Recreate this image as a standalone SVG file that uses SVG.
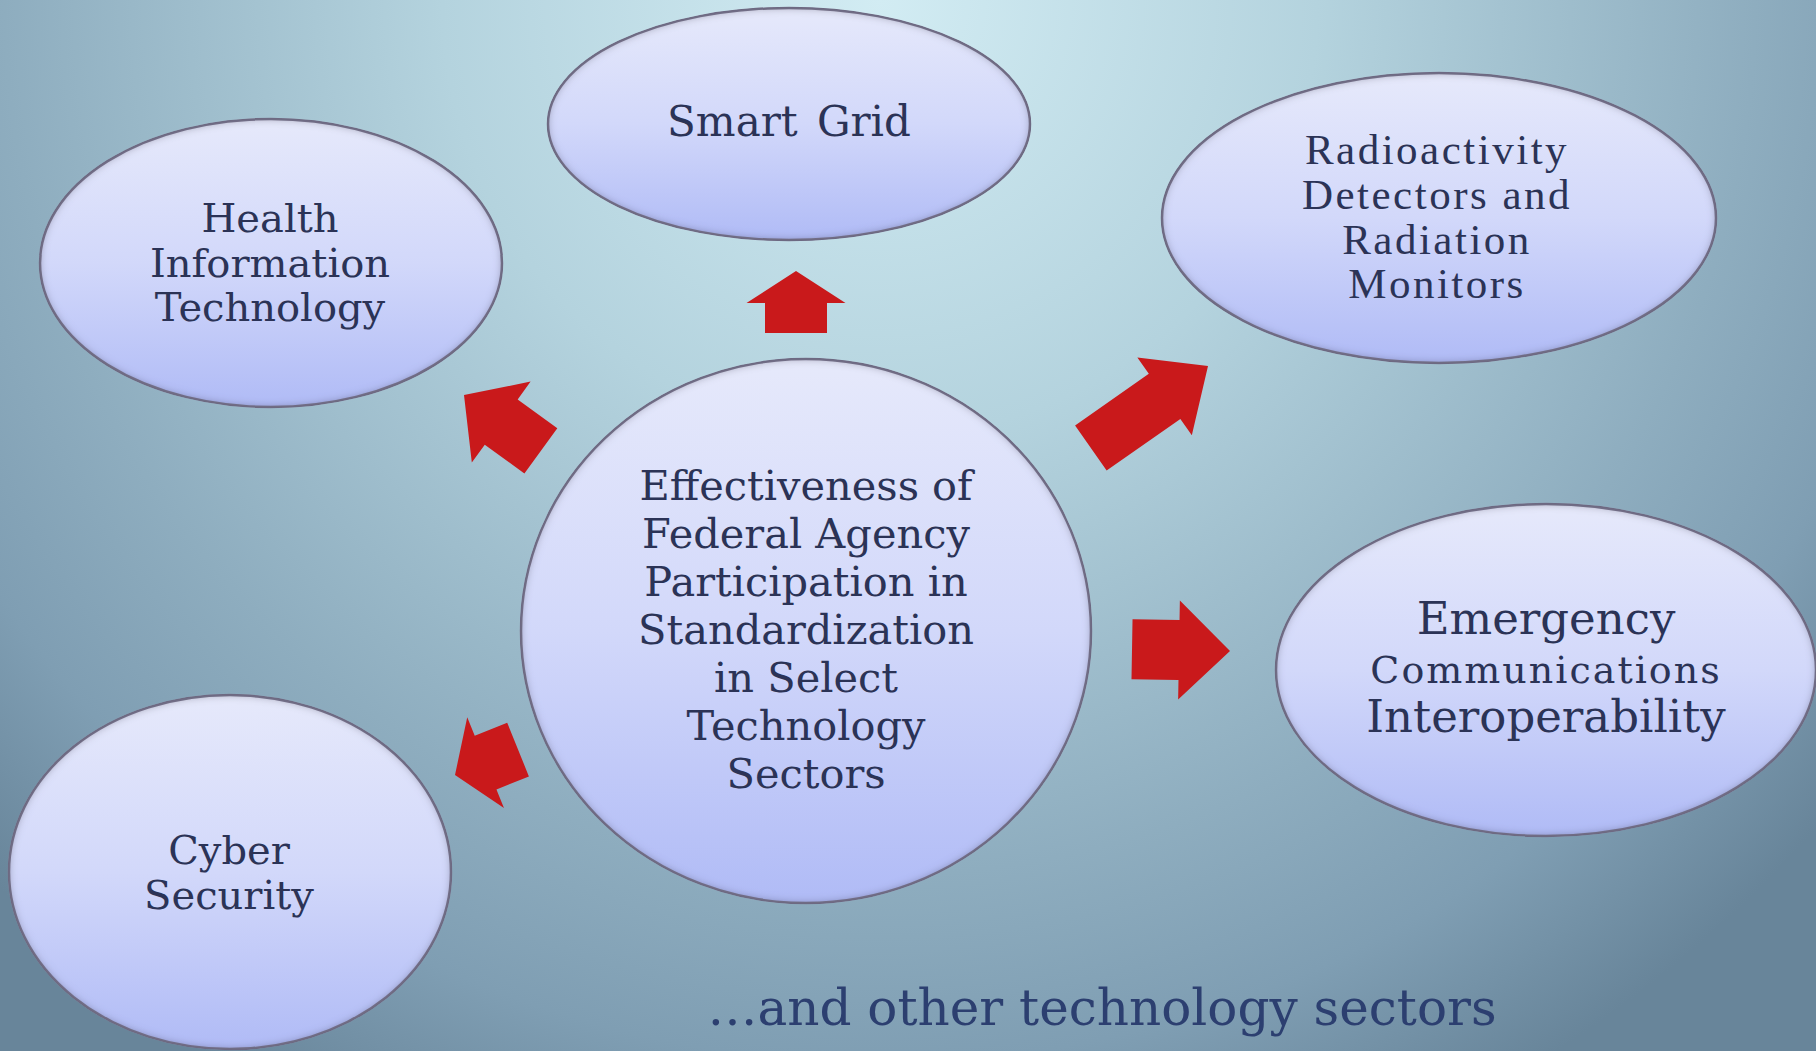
<svg xmlns="http://www.w3.org/2000/svg" width="1816" height="1051" viewBox="0 0 1816 1051">
<defs>
  <radialGradient id="bg" gradientUnits="userSpaceOnUse" cx="880" cy="0" r="1250">
    <stop offset="0" stop-color="#d2ecf3"/>
    <stop offset="0.35" stop-color="#b4d3de"/>
    <stop offset="0.7" stop-color="#8eadbf"/>
    <stop offset="0.85" stop-color="#7f9eb3"/>
    <stop offset="1" stop-color="#68859a"/>
  </radialGradient>
  <linearGradient id="nodeFill" x1="0" y1="0" x2="0" y2="1">
    <stop offset="0" stop-color="#e6e9fb"/>
    <stop offset="0.5" stop-color="#d2d8fa"/>
    <stop offset="1" stop-color="#b0bbf6"/>
  </linearGradient>
  <filter id="bevel" x="-5%" y="-5%" width="110%" height="110%">
    <feGaussianBlur in="SourceAlpha" stdDeviation="5" result="b"/>
    <feComposite in="SourceAlpha" in2="b" operator="arithmetic" k2="1" k3="-1" result="inner"/>
    <feFlood flood-color="#4e4866" flood-opacity="0.9"/>
    <feComposite in2="inner" operator="in" result="shadow"/>
    <feMerge><feMergeNode in="SourceGraphic"/><feMergeNode in="shadow"/></feMerge>
  </filter>
</defs>
<style>
  .node { fill: url(#nodeFill); stroke: #7e7a92; stroke-width: 2.5; filter: url(#bevel); }
  .lbl { font-family: "DejaVu Serif", "Liberation Serif", serif; fill: #2b3356; text-anchor: middle; }
  .lblT { font-family: "Liberation Serif", "DejaVu Serif", serif; fill: #2b3356; text-anchor: middle; }
  .arrow { fill: #c9191b; }
  .foot { font-family: "DejaVu Serif", "Liberation Serif", serif; fill: #2c3f70; font-size: 50px; }
</style>
<rect x="0" y="0" width="1816" height="1051" fill="url(#bg)"/>

<g id="connectors">
  <path class="arrow" transform="translate(796,271) rotate(-90)" d="M0,0 L-32,-49.5 L-32,-31 L-62,-31 L-62,31 L-32,31 L-32,49.5 Z"/>
  <path class="arrow" transform="translate(464,395) rotate(-144)" d="M0,0 L-46,-50 L-46,-28 L-95,-28 L-95,28 L-46,28 L-46,50 Z"/>
  <path class="arrow" transform="translate(1208,366) rotate(-35)" d="M0,0 L-53,-47.5 L-53,-27.5 L-143,-27.5 L-143,27.5 L-53,27.5 L-53,47.5 Z"/>
  <path class="arrow" transform="translate(1230,651) rotate(1)" d="M0,0 L-51,-49.5 L-51,-30 L-98,-30 L-98,30 L-51,30 L-51,49.5 Z"/>
  <path class="arrow" transform="translate(455,775) rotate(158)" d="M0,0 L-33,-49 L-33,-29 L-68,-29 L-68,29 L-33,29 L-33,49 Z"/>
</g>

<g id="node-health">
  <ellipse class="node" cx="271" cy="263" rx="231" ry="144"/>
  <text class="lbl" font-size="40" x="270"><tspan x="270" y="232">Health</tspan><tspan x="270" y="277">Information</tspan><tspan x="270" y="321">Technology</tspan></text>
</g>

<g id="node-smartgrid">
  <ellipse class="node" cx="789" cy="124" rx="241" ry="116"/>
  <text class="lbl" font-size="42" x="789" y="136" word-spacing="6">Smart Grid</text>
</g>

<g id="node-radio">
  <ellipse class="node" cx="1439" cy="218" rx="277" ry="145"/>
  <text class="lblT" font-size="43" letter-spacing="2.5"><tspan x="1437" y="164">Radioactivity</tspan><tspan x="1437" y="209">Detectors and</tspan><tspan x="1437" y="254">Radiation</tspan><tspan x="1437" y="298">Monitors</tspan></text>
</g>

<g id="node-center">
  <ellipse class="node" cx="806" cy="631" rx="285" ry="272"/>
  <text class="lbl" font-size="41.5"><tspan x="806" y="500">Effectiveness of</tspan><tspan x="806" y="548">Federal Agency</tspan><tspan x="806" y="596">Participation in</tspan><tspan x="806" y="644">Standardization</tspan><tspan x="806" y="692">in Select</tspan><tspan x="806" y="740">Technology</tspan><tspan x="806" y="788">Sectors</tspan></text>
</g>

<g id="node-emergency">
  <ellipse class="node" cx="1546" cy="670" rx="270" ry="166"/>
  <text class="lbl"><tspan x="1546" y="634" font-size="45">Emergency</tspan><tspan x="1546" y="683" font-size="38" letter-spacing="2">Communications</tspan><tspan x="1546" y="732" font-size="45">Interoperability</tspan></text>
</g>

<g id="node-cyber">
  <ellipse class="node" cx="230" cy="872" rx="221" ry="177"/>
  <text class="lbl" font-size="40"><tspan x="229" y="864">Cyber</tspan><tspan x="229" y="909">Security</tspan></text>
</g>

<text class="foot" x="1102" y="1025" text-anchor="middle">…and other technology sectors</text>
</svg>
